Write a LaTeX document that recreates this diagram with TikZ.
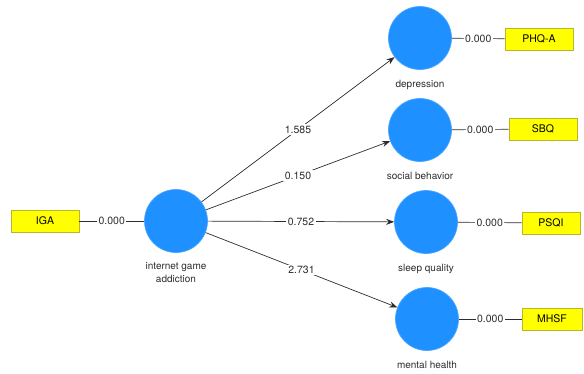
\documentclass[tikz,border=0pt]{standalone}
\usepackage{fontspec}
\setmainfont{TeX Gyre Heros}
\usetikzlibrary{arrows.meta}
\definecolor{lvblue}{RGB}{30,144,255}
\definecolor{indyellow}{RGB}{255,255,0}
\definecolor{indedge}{RGB}{190,180,40}
\definecolor{ink}{RGB}{45,45,45}
\tikzset{
  latent/.style={circle,fill=lvblue,draw=lvblue!80!white,minimum size=63pt,inner sep=0pt},
  indicator/.style={rectangle,fill=indyellow,draw=indedge,minimum width=68pt,minimum height=22pt,inner sep=0pt},
  coef/.style={fill=white,inner sep=1.5pt,text=ink},
  lvname/.style={align=center,text=ink,font=\fontsize{10}{12.5}\selectfont}
}
\begin{document}
\begin{tikzpicture}[x=1pt,y=-1pt,font=\fontsize{10.5}{12}\selectfont,line width=0.7pt,>={Stealth[length=8pt,width=6pt]}]
\useasboundingbox (0,0) rectangle (584,373);
\node[indicator] (IGA) at (45,221) {IGA};
\node[latent,label={[lvname,label distance=6pt]below:internet game\\addiction}] (G) at (176,221) {};
\node[latent,label={[lvname,label distance=7pt]below:depression}] (D) at (420,38) {};
\node[latent,label={[lvname,label distance=7pt]below:social behavior}] (S) at (420,130) {};
\node[latent,label={[lvname,label distance=7pt]below:sleep quality}] (Q) at (426,222) {};
\node[latent,label={[lvname,label distance=7pt]below:mental health}] (H) at (427,319) {};
\node[indicator] (PHQ) at (539,39) {PHQ-A};
\node[indicator] (SBQ) at (543,129) {SBQ};
\node[indicator,minimum width=58pt] (PSQI) at (551,223) {PSQI};
\node[indicator,minimum width=60pt] (MHSF) at (552,319) {MHSF};
\draw[ink] (IGA) -- node[coef] {0.000} (G);
\draw[ink] (D) -- node[coef] {0.000} (PHQ);
\draw[ink] (S) -- node[coef] {0.000} (SBQ);
\draw[ink] (Q) -- node[coef] {0.000} (PSQI);
\draw[ink] (H) -- node[coef] {0.000} (MHSF);
\draw[->,ink] (G) -- node[coef] {1.585} (D);
\draw[->,ink] (G) -- node[coef] {0.150} (S);
\draw[->,ink] (G) -- node[coef] {0.752} (Q);
\draw[->,ink] (G) -- node[coef] {2.731} (H);
\end{tikzpicture}
\end{document}
